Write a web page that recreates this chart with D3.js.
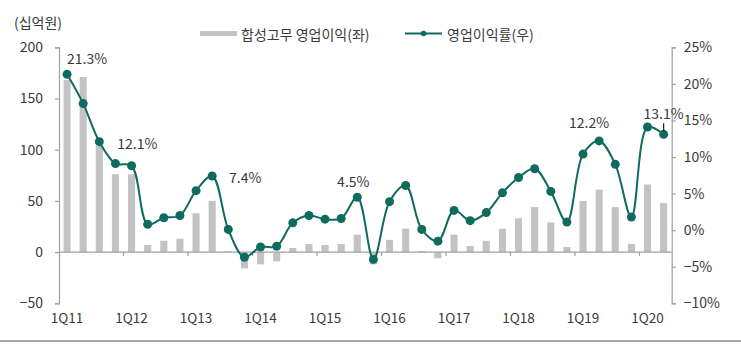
<!DOCTYPE html>
<html>
<head>
<meta charset="utf-8">
<script src="https://cdn.jsdelivr.net/npm/d3@7"></script>
<style>
  html, body { margin: 0; padding: 0; background: #fff; }
  svg { display: block; font-family: "Noto Sans CJK KR", "Noto Sans", sans-serif; }
</style>
</head>
<body>
<svg id="chart" width="741" height="345"></svg>
<script>
// Quarterly synthetic rubber operating profit (KRW bn) and operating margin (%)
const quarters = [
  "1Q11","2Q11","3Q11","4Q11","1Q12","2Q12","3Q12","4Q12",
  "1Q13","2Q13","3Q13","4Q13","1Q14","2Q14","3Q14","4Q14",
  "1Q15","2Q15","3Q15","4Q15","1Q16","2Q16","3Q16","4Q16",
  "1Q17","2Q17","3Q17","4Q17","1Q18","2Q18","3Q18","4Q18",
  "1Q19","2Q19","3Q19","4Q19","1Q20","2Q20"
];
const operatingProfit = [
  168, 171, 104, 76, 76, 7, 11, 13,
  38, 50, 1, -16, -12, -9, 4, 8,
  7, 8, 17, -12, 12, 23, 1, -6,
  17, 6, 11, 23, 33, 44, 29, 5,
  50, 61, 44, 8, 66, 48
];
const operatingMargin = [
  21.3, 17.3, 12.1, 9.1, 8.8, 0.8, 1.7, 2.0,
  5.4, 7.4, 0.1, -3.7, -2.3, -2.2, 1.0, 2.0,
  1.5, 1.6, 4.5, -4.0, 3.9, 6.1, 0.1, -1.5,
  2.7, 1.3, 2.4, 5.1, 7.2, 8.4, 5.3, 1.1,
  10.4, 12.2, 9.0, 1.8, 14.1, 13.1
];
const leftTicks = [-50, 0, 50, 100, 150, 200];
const rightTicks = [-10, -5, 0, 5, 10, 15, 20, 25];
const yearStarts = ["1Q11","1Q12","1Q13","1Q14","1Q15","1Q16","1Q17","1Q18","1Q19","1Q20"];
// margins that carry a value label
const labelledQuarters = ["1Q11","3Q11","2Q13","3Q15","2Q19","2Q20"];

const unitLabel = "(십억원)";
const legendBar = "합성고무 영업이익(좌)";
const legendLine = "영업이익률(우)";

const svg = d3.select("#chart");
const plotLeft = 59, plotRight = 671.7, plotTop = 47.3, plotBottom = 303.3;
const teal = "#0f6b5f", barGrey = "#c3c3c3", axisGrey = "#a0a0a0", textCol = "#3a3a3a";

const x = d3.scaleBand().domain(quarters).range([plotLeft, plotRight])
  .paddingInner(0.56).paddingOuter(0.28);
const yL = d3.scaleLinear().domain([-50, 200]).range([plotBottom, plotTop]);
const yR = d3.scaleLinear().domain([-10, 25]).range([plotBottom, plotTop]);
const cx = q => x(q) + x.bandwidth() / 2;
const fmt = d3.format("d");

// bars
svg.append("g").selectAll("rect").data(quarters).join("rect")
  .attr("x", q => x(q))
  .attr("width", x.bandwidth())
  .attr("y", (q, i) => yL(Math.max(0, operatingProfit[i])))
  .attr("height", (q, i) => Math.abs(yL(operatingProfit[i]) - yL(0)))
  .attr("fill", barGrey);

// zero baseline with year-boundary ticks
const base = svg.append("g").attr("stroke", axisGrey).attr("stroke-width", 1.2);
base.append("line").attr("x1", plotLeft).attr("x2", plotRight)
  .attr("y1", yL(0)).attr("y2", yL(0));
const slotStart = q => x(q) - x.step() * x.paddingInner() / 2;
base.selectAll("line.tk").data(yearStarts.slice(1)).join("line").attr("class", "tk")
  .attr("x1", q => slotStart(q)).attr("x2", q => slotStart(q))
  .attr("y1", yL(0)).attr("y2", yL(0) + 4);

// left axis
const gL = svg.append("g").attr("transform", `translate(${plotLeft},0)`)
  .call(d3.axisLeft(yL).tickValues(leftTicks).tickSize(4).tickPadding(12).tickFormat(fmt));
// right axis
const gR = svg.append("g").attr("transform", `translate(${plotRight},0)`)
  .call(d3.axisRight(yR).tickValues(rightTicks).tickSize(4).tickPadding(8)
    .tickFormat(d => fmt(d) + "%"));
[gL, gR].forEach(g => {
  g.selectAll("path, line").attr("stroke", axisGrey).attr("stroke-width", 1.2);
  g.selectAll("text").attr("fill", textCol).style("font-size", "14px")
    .style("font-family", "'Noto Sans CJK KR', sans-serif");
});

// category labels along the bottom
const gX = svg.append("g").attr("transform", `translate(0,${plotBottom + 4})`)
  .call(d3.axisBottom(x).tickValues(yearStarts).tickSize(0).tickPadding(6));
gX.select(".domain").remove();
gX.selectAll("text").attr("fill", textCol).style("font-size", "13.5px")
  .style("font-family", "'Noto Sans CJK KR', sans-serif");

// margin line
const line = d3.line().x((d, i) => cx(quarters[i])).y(d => yR(d)).curve(d3.curveCatmullRom.alpha(0.5));
svg.append("path").datum(operatingMargin).attr("d", line)
  .attr("fill", "none").attr("stroke", teal).attr("stroke-width", 2);
svg.append("g").selectAll("circle").data(operatingMargin).join("circle")
  .attr("cx", (d, i) => cx(quarters[i])).attr("cy", d => yR(d)).attr("r", 4.5)
  .attr("fill", teal);

// value labels beside selected margin points
const labelOffset = {
  "1Q11": [20, -16], "3Q11": [38, 1], "2Q13": [33, 1],
  "3Q15": [-4, -16], "2Q19": [-10, -19], "2Q20": [0, -21]
};
const gLab = svg.append("g");
labelledQuarters.forEach(q => {
  const i = quarters.indexOf(q);
  const px = cx(q), py = yR(operatingMargin[i]);
  const [dx, dy] = labelOffset[q];
  gLab.append("text").attr("x", px + dx).attr("y", py + dy)
    .attr("text-anchor", "middle").attr("dominant-baseline", "central")
    .attr("fill", textCol).style("font-size", "14px")
    .text(operatingMargin[i].toFixed(1) + "%");
  if (q === "2Q20") {
    gLab.append("line").attr("x1", px).attr("x2", px)
      .attr("y1", py + dy + 10).attr("y2", py - 3)
      .attr("stroke", "#222").attr("stroke-width", 1.2);
  }
});

// unit caption
svg.append("text").attr("x", 14).attr("y", 22).attr("dominant-baseline", "central")
  .attr("fill", textCol).style("font-size", "14px").text(unitLabel);

// legend
const lg = svg.append("g");
lg.append("rect").attr("x", 200).attr("y", 31).attr("width", 37).attr("height", 5).attr("fill", barGrey);
lg.append("text").attr("x", 241).attr("y", 33.5).attr("dominant-baseline", "central")
  .attr("fill", textCol).style("font-size", "14px").text(legendBar);
lg.append("line").attr("x1", 405).attr("x2", 442).attr("y1", 33.5).attr("y2", 33.5)
  .attr("stroke", teal).attr("stroke-width", 2);
lg.append("circle").attr("cx", 423.5).attr("cy", 33.5).attr("r", 2.8).attr("fill", teal);
lg.append("text").attr("x", 447).attr("y", 33.5).attr("dominant-baseline", "central")
  .attr("fill", textCol).style("font-size", "14px").text(legendLine);

// rule under the chart
svg.append("line").attr("x1", 0).attr("x2", 741).attr("y1", 341).attr("y2", 341)
  .attr("stroke", "#8a8a8a").attr("stroke-width", 1.5);
</script>
</body>
</html>
